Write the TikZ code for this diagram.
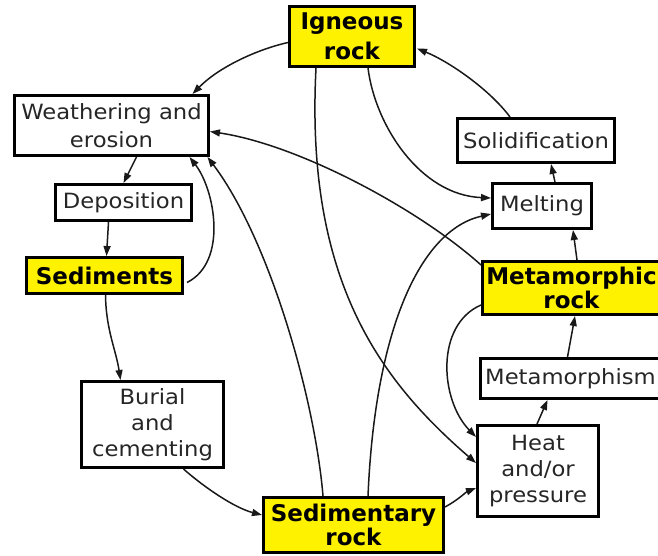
\documentclass[tikz,border=0pt]{standalone}
\usepackage{fontspec}
\setmainfont{DejaVu Sans}
\newfontfamily\widef{DejaVu Sans}[FakeStretch=1.08]
\usetikzlibrary{arrows.meta,calc}
\begin{document}
\begin{tikzpicture}[x=1pt,y=-1pt,
  box/.style={draw=black,line width=3pt,fill=white,inner sep=0pt,align=center,
    font=\widef\fontsize{21}{26}\selectfont,text=black!85},
  rockbox/.style={box,fill=yellow,font=\bfseries\fontsize{23}{24}\selectfont,text=black},
  flow/.style={line width=1.5pt,black!90,-{Triangle[length=10pt,width=7pt]}}]
\clip (0,0) rectangle (658,556);
% nodes
\node[rockbox,minimum width=125pt,minimum height=60pt,font=\bfseries\fontsize{23}{30}\selectfont] (ign) at (352,36.5) {Igneous\\rock};
\node[box,minimum width=194pt,minimum height=60pt,font=\widef\fontsize{21}{28}\selectfont] (wea) at (111.5,125.5) {Weathering and\\erosion};
\node[box,minimum width=136pt,minimum height=36pt] (dep) at (123.5,202.5) {Deposition};
\node[rockbox,minimum width=156pt,minimum height=36pt] (sed) at (104.5,275.5) {Sediments};
\node[box,minimum width=142pt,minimum height=86pt] (bur) at (152.5,424.5) {Burial\\and\\cementing};
\node[rockbox,minimum width=180pt,minimum height=55pt] (sdr) at (353.5,525) {Sedimentary\\rock};
\node[box,minimum width=157pt,minimum height=44pt] (sol) at (536,140.5) {Solidification};
\node[box,minimum width=99pt,minimum height=45pt] (mel) at (542,206) {Melting};
\node[rockbox,minimum width=178pt,minimum height=53pt,font=\bfseries\fontsize{23}{22}\selectfont] (met) at (571.5,288) {Metamorphic\\rock};
\node[box,minimum width=180pt,minimum height=40pt] (mph) at (570.5,378.5) {Metamorphism};
\node[box,minimum width=121pt,minimum height=91pt] (hea) at (538,471) {Heat\\and/or\\pressure};
% connectors
\draw[flow] ($(ign.west)+(0,6)$) .. controls (255,50) and (218,68) .. ($(wea.north)+(81,0)$);
\draw[flow] ($(wea.south)+(25,0)$) -- (dep.north);
\draw[flow] ($(dep.south)+(-15,0)$) -- ($(sed.north)+(2,0)$);
\draw[flow] ($(sed.east)+(3,7)$) .. controls (228,262) and (215,190) .. ($(wea.south)+(78,0)$);
\draw[flow] ($(sdr.north)+(-30.5,0)$) .. controls (315,400) and (270,240) .. ($(wea.south)+(96,0)$);
\draw[flow] ($(met.north west)+(0,5)$) .. controls (420,210) and (300,145) .. ($(wea.east)+(0,6)$);
\draw[flow] ($(ign.south)+(16,0)$) .. controls (375,125) and (420,195) .. ($(mel.west)+(0,-8)$);
\draw[flow] ($(ign.south)+(-36,0)$) .. controls (305,280) and (380,380) .. ($(hea.west)+(0,-8)$);
\draw[flow] ($(sdr.north)+(14.5,0)$) .. controls (375,330) and (420,230) .. ($(mel.west)+(0,8)$);
\draw[flow] ($(met.west)+(0,17)$) .. controls (435,325) and (440,400) .. ($(hea.west)+(0,-34)$);
\draw[flow] ($(sdr.east)+(0,-18)$) .. controls (458,500) and (466,492) .. ($(hea.west)+(0,17)$);
\draw[flow] ($(bur.south)+(31,0)$) .. controls (205,488) and (235,508) .. ($(sdr.west)+(0,-10)$);
\draw[flow] ($(sed.south)+(1,0)$) .. controls (106,330) and (116,350) .. ($(bur.north)+(-32,0)$);
\draw[flow] ($(hea.north)+(-1,0)$) -- ($(mph.south)+(-23,0)$);
\draw[flow] ($(mph.north)+(-3,0)$) -- ($(met.south)+(3.5,0)$);
\draw[flow] ($(met.north)+(5.5,0)$) -- ($(mel.south)+(31,0)$);
\draw[flow] ($(mel.north)+(13,0)$) -- ($(sol.south)+(15,0)$);
\draw[flow] ($(sol.north)+(-26,0)$) .. controls (490,90) and (450,62) .. ($(ign.east)+(1,12)$);
\end{tikzpicture}
\end{document}
